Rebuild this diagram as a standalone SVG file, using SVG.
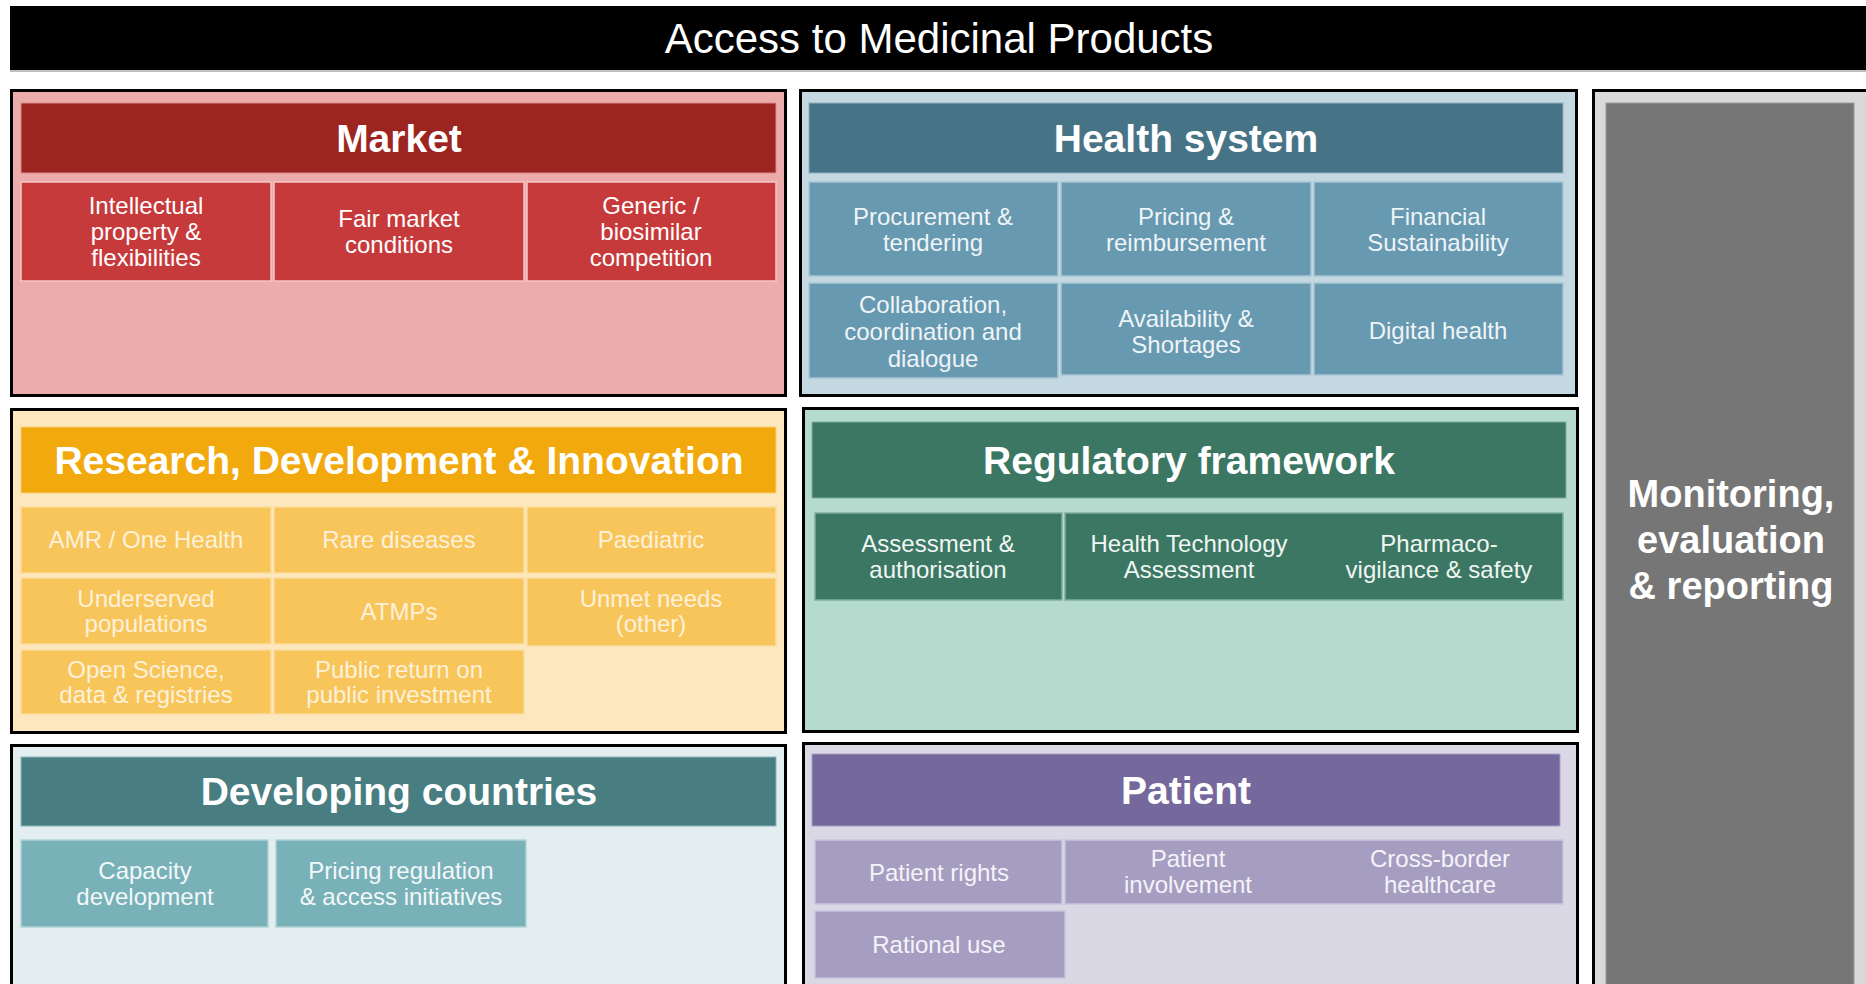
<svg xmlns="http://www.w3.org/2000/svg" width="1866" height="984" viewBox="0 0 1866 984">
  <style>
    text { font-family: "Liberation Sans", Arial, sans-serif; text-anchor: middle; }
    .title { font-size: 42px; fill: #ffffff; }
    .head { font-size: 39px; font-weight: bold; fill: #ffffff; }
    .cell { font-size: 24px; }
    .frame { stroke: #000000; stroke-width: 3; }
    .mon { font-size: 38px; font-weight: bold; fill: #ffffff; }
  </style>

  <!-- page background -->
  <rect x="0" y="0" width="1866" height="984" fill="#ffffff"/>

  <!-- title banner -->
  <g id="title">
    <rect x="10" y="6" width="1856" height="64" fill="#000000"/>
    <rect x="10" y="70" width="1856" height="2" fill="#bfbfbf"/>
    <text class="title" x="939" y="53">Access to Medicinal Products</text>
  </g>

  <!-- Market -->
  <g id="market">
    <rect class="frame" x="11.5" y="90.5" width="774" height="305" fill="#ECACAB"/>
    <rect x="21" y="103" width="755" height="70" fill="#9C2421" stroke="#D98C8C" stroke-width="1"/>
    <text class="head" x="399" y="152">Market</text>
    <g fill="#C73A3B" stroke="#F3C6C6" stroke-width="1.5">
      <rect x="21" y="182" width="250" height="99"/>
      <rect x="274" y="182" width="250" height="99"/>
      <rect x="527" y="182" width="249" height="99"/>
    </g>
    <g class="cell" fill="#ffffff">
      <text x="146" y="214">Intellectual</text>
      <text x="146" y="240">property &amp;</text>
      <text x="146" y="266">flexibilities</text>
      <text x="399" y="227">Fair market</text>
      <text x="399" y="253">conditions</text>
      <text x="651" y="214">Generic /</text>
      <text x="651" y="240">biosimilar</text>
      <text x="651" y="266">competition</text>
    </g>
  </g>

  <!-- Health system -->
  <g id="health-system">
    <rect class="frame" x="800.5" y="90.5" width="776" height="305" fill="#C3D8E1"/>
    <rect x="809" y="103" width="754" height="70" fill="#477387" stroke="#8FB0C0" stroke-width="1"/>
    <text class="head" x="1186" y="152">Health system</text>
    <g fill="#6799B0" stroke="#A9C6D4" stroke-width="1.5">
      <rect x="809" y="182" width="249" height="94"/>
      <rect x="1061" y="182" width="250" height="94"/>
      <rect x="1314" y="182" width="249" height="94"/>
      <rect x="809" y="283" width="249" height="95"/>
      <rect x="1061" y="283" width="250" height="92"/>
      <rect x="1314" y="283" width="249" height="92"/>
    </g>
    <g class="cell" fill="#EEF4F7">
      <text x="933" y="225">Procurement &amp;</text>
      <text x="933" y="251">tendering</text>
      <text x="1186" y="225">Pricing &amp;</text>
      <text x="1186" y="251">reimbursement</text>
      <text x="1438" y="225">Financial</text>
      <text x="1438" y="251">Sustainability</text>
      <text x="933" y="313">Collaboration,</text>
      <text x="933" y="340">coordination and</text>
      <text x="933" y="367">dialogue</text>
      <text x="1186" y="327">Availability &amp;</text>
      <text x="1186" y="353">Shortages</text>
      <text x="1438" y="339">Digital health</text>
    </g>
  </g>

  <!-- Monitoring, evaluation & reporting -->
  <g id="monitoring">
    <rect class="frame" x="1593.5" y="90.5" width="290" height="910" fill="#D9D9D9"/>
    <rect x="1606" y="103" width="248" height="900" fill="#767676" stroke="#9a9a9a" stroke-width="1"/>
    <text class="mon" x="1731" y="507">Monitoring,</text>
    <text class="mon" x="1731" y="553">evaluation</text>
    <text class="mon" x="1731" y="599">&amp; reporting</text>
  </g>

  <!-- Research, Development & Innovation -->
  <g id="rdi">
    <rect class="frame" x="11.5" y="409.5" width="774" height="323" fill="#FDE7BE"/>
    <rect x="21" y="427" width="755" height="66" fill="#F2A90D" stroke="#F8CF7A" stroke-width="1"/>
    <text class="head" x="399" y="474">Research, Development &amp; Innovation</text>
    <g fill="#F8C55B" stroke="#FBDD9C" stroke-width="1.5">
      <rect x="21" y="507" width="250" height="66"/>
      <rect x="274" y="507" width="250" height="66"/>
      <rect x="527" y="507" width="249" height="66"/>
      <rect x="21" y="578" width="250" height="66"/>
      <rect x="274" y="578" width="250" height="66"/>
      <rect x="527" y="578" width="249" height="68"/>
      <rect x="21" y="650" width="250" height="64"/>
      <rect x="274" y="650" width="250" height="64"/>
    </g>
    <g class="cell" fill="#FDF1DA">
      <text x="146" y="548">AMR / One Health</text>
      <text x="399" y="548">Rare diseases</text>
      <text x="651" y="548">Paediatric</text>
      <text x="146" y="607">Underserved</text>
      <text x="146" y="632">populations</text>
      <text x="399" y="620">ATMPs</text>
      <text x="651" y="607">Unmet needs</text>
      <text x="651" y="632">(other)</text>
      <text x="146" y="678">Open Science,</text>
      <text x="146" y="703">data &amp; registries</text>
      <text x="399" y="678">Public return on</text>
      <text x="399" y="703">public investment</text>
    </g>
  </g>

  <!-- Regulatory framework -->
  <g id="regulatory">
    <rect class="frame" x="803.5" y="408.5" width="774" height="323" fill="#B5DBCE"/>
    <rect x="812" y="422" width="754" height="76" fill="#3B7762" stroke="#7FAE9D" stroke-width="1"/>
    <text class="head" x="1189" y="474">Regulatory framework</text>
    <g fill="#3B7762" stroke="#7FAE9D" stroke-width="1.5">
      <rect x="815" y="513" width="247" height="87"/>
      <rect x="1065" y="513" width="498" height="87"/>
    </g>
    <g class="cell" fill="#F0F6F3">
      <text x="938" y="552">Assessment &amp;</text>
      <text x="938" y="578">authorisation</text>
      <text x="1189" y="552">Health Technology</text>
      <text x="1189" y="578">Assessment</text>
      <text x="1439" y="552">Pharmaco-</text>
      <text x="1439" y="578">vigilance &amp; safety</text>
    </g>
  </g>

  <!-- Developing countries -->
  <g id="developing-countries">
    <rect class="frame" x="11.5" y="745.5" width="774" height="260" fill="#E3EEF0"/>
    <rect x="21" y="757" width="755" height="69" fill="#487E82" stroke="#8DB5B8" stroke-width="1"/>
    <text class="head" x="399" y="805">Developing countries</text>
    <g fill="#79B1B8" stroke="#B2D3D7" stroke-width="1.5">
      <rect x="21" y="840" width="247" height="87"/>
      <rect x="276" y="840" width="250" height="87"/>
    </g>
    <g class="cell" fill="#F2F8F9">
      <text x="145" y="879">Capacity</text>
      <text x="145" y="905">development</text>
      <text x="401" y="879">Pricing regulation</text>
      <text x="401" y="905">&amp; access initiatives</text>
    </g>
  </g>

  <!-- Patient -->
  <g id="patient">
    <rect class="frame" x="803.5" y="743.5" width="774" height="262" fill="#DBD8E6"/>
    <rect x="812" y="754" width="748" height="72" fill="#75689C" stroke="#A79DC4" stroke-width="1"/>
    <text class="head" x="1186" y="804">Patient</text>
    <g fill="#A69EC1" stroke="#C9C3DD" stroke-width="1.5">
      <rect x="815" y="840" width="247" height="64"/>
      <rect x="1065" y="840" width="498" height="64"/>
      <rect x="815" y="911" width="250" height="67"/>
    </g>
    <g class="cell" fill="#F5F3F9">
      <text x="939" y="881">Patient rights</text>
      <text x="1188" y="867">Patient</text>
      <text x="1188" y="893">involvement</text>
      <text x="1440" y="867">Cross-border</text>
      <text x="1440" y="893">healthcare</text>
      <text x="939" y="953">Rational use</text>
    </g>
  </g>

  <!-- no connectors in this layout -->
  <g id="connectors"/>
</svg>
